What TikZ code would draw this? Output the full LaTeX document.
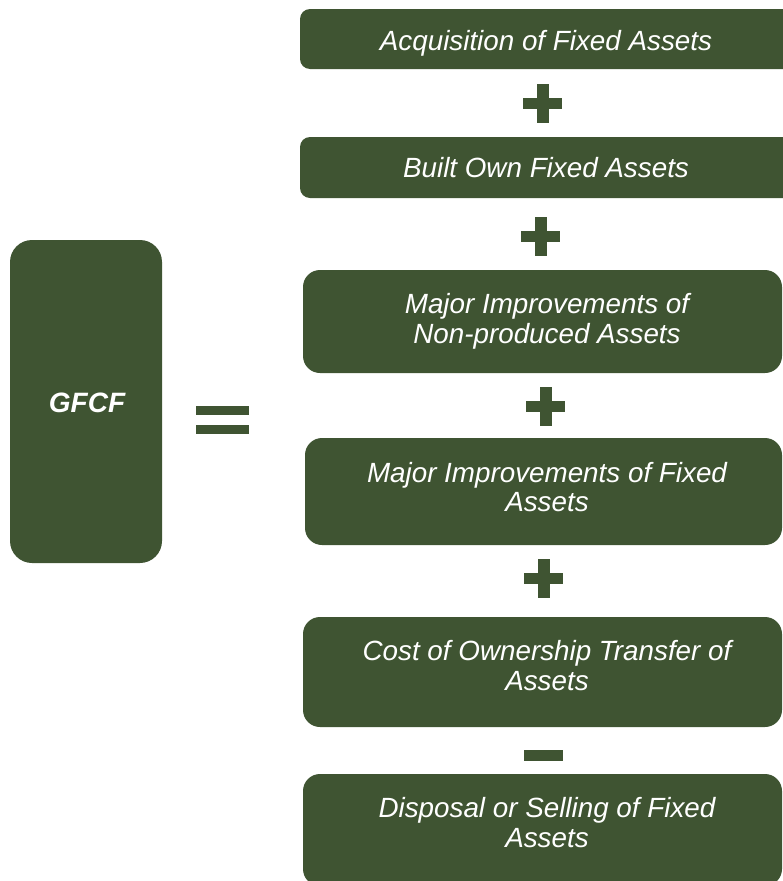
\documentclass[tikz,border=0pt]{standalone}
\usepackage{fontspec}
\setmainfont{Liberation Sans}
\definecolor{olive}{RGB}{63,84,50}
\begin{document}
\begin{tikzpicture}[x=1pt,y=-1pt,
  box/.style={fill=olive,draw=none},
  txt/.style={anchor=base,text=white,inner sep=0pt,font=\fontsize{27.8}{30}\selectfont\itshape},
  bigtxt/.style={anchor=base,text=white,inner sep=0pt,font=\fontsize{28}{30}\selectfont\bfseries\itshape}]
\useasboundingbox (0,0) rectangle (783,881);
\clip (0,0) rectangle (783,881);
% boxes
\fill[box,rounded corners=10pt] (300,9) rectangle (800,69);
\fill[box,rounded corners=10pt] (300,137) rectangle (800,198);
\fill[box,rounded corners=17pt] (303,270) rectangle (782,373);
\fill[box,rounded corners=17pt] (305,438) rectangle (782,545);
\fill[box,rounded corners=17pt] (303,617) rectangle (782,727);
\fill[box,rounded corners=17pt] (303,774) rectangle (782,886);
\fill[box,rounded corners=22pt] (10,240) rectangle (162,563);
% texts
\node[bigtxt] (g) at (87,412) {GFCF};
\node[txt] (t1) at (546,50) {Acquisition of Fixed Assets};
\node[txt] (t2) at (546,177) {Built Own Fixed Assets};
\node[txt] (t3a) at (547,313) {Major Improvements of};
\node[txt] (t3b) at (547,343) {Non-produced Assets};
\node[txt] (t4a) at (547,482) {Major Improvements of Fixed};
\node[txt] (t4b) at (547,511) {Assets};
\node[txt] (t5a) at (547,660) {Cost of Ownership Transfer of};
\node[txt] (t5b) at (547,690) {Assets};
\node[txt] (t6a) at (547,817) {Disposal or Selling of Fixed};
\node[txt] (t6b) at (547,847) {Assets};
% operators
\fill[olive] (196,406) rectangle (249,415);
\fill[olive] (196,425) rectangle (249,434);
\foreach \cx/\cy in {542.5/103, 540.5/236.5, 545.5/406.5, 543.5/578.5}{
  \fill[olive] (\cx-19.5,\cy-5.5) rectangle (\cx+19.5,\cy+5.5);
  \fill[olive] (\cx-6,\cy-19.5) rectangle (\cx+6,\cy+19.5);
}
\fill[olive] (524,750) rectangle (563,761);
\end{tikzpicture}
\end{document}
